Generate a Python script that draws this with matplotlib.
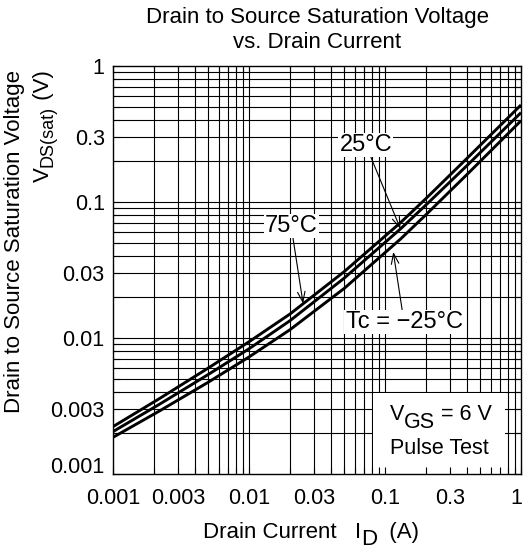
import numpy as np
import matplotlib
matplotlib.use("Agg")
import matplotlib.pyplot as plt
from matplotlib.patches import Rectangle
from matplotlib.transforms import ScaledTranslation

plt.rcParams['font.family'] = ['Liberation Sans', 'DejaVu Sans']
plt.rcParams['mathtext.fontset'] = 'custom'
plt.rcParams['mathtext.rm'] = 'Liberation Sans'

# ---- data ----
drain_current = [0.001, 0.0022, 0.005, 0.01, 0.02, 0.05, 0.13, 0.2, 0.4, 1.0]
vds_75 = [0.00223, 0.00359, 0.0060, 0.00938, 0.0150, 0.0307, 0.0705, 0.106, 0.209, 0.517]
vds_25 = [0.00205, 0.00326, 0.00538, 0.00833, 0.0134, 0.0275, 0.0634, 0.0951, 0.185, 0.454]
vds_m25 = [0.00186, 0.00291, 0.00472, 0.00725, 0.0115, 0.0231, 0.0534, 0.0806, 0.159, 0.396]

x_ticks = [0.001, 0.003, 0.01, 0.03, 0.1, 0.3, 1]
x_labels = ['0.001', '0.003', '0.01', '0.03', '0.1', '0.3', '1']
y_ticks = [0.001, 0.003, 0.01, 0.03, 0.1, 0.3, 1]
y_labels = ['0.001', '0.003', '0.01', '0.03', '0.1', '0.3', '1']

FS = 15.5
W, H = 527, 554
fig = plt.figure(figsize=(W / 100, H / 100), dpi=100)
ax = fig.add_axes([113 / W, 1 - 474 / H, 408 / W, 408 / H])
ax.set_xscale('log')
ax.set_yscale('log')
ax.set_xlim(0.001, 1)
ax.set_ylim(0.001, 1)
ax.set_axisbelow(False)

# grid (drawn manually so white label boxes can sit between grid and ticks)
grid_vals = [k * 10.0 ** d for d in (-3, -2, -1) for k in range(1, 10)]
for g in grid_vals[1:]:
    ax.axvline(g, color='black', lw=0.8, zorder=1)
    ax.axhline(g, color='black', lw=0.8, zorder=1)

# curves
for v in (vds_75, vds_25, vds_m25):
    ax.plot(drain_current, v, color='black', lw=2.1, zorder=3,
            solid_capstyle='butt', solid_joinstyle='round')

# ticks
ax.set_xticks(x_ticks)
ax.set_xticklabels(x_labels)
ax.set_yticks(y_ticks)
ax.set_yticklabels(y_labels)
ax.tick_params(which='both', direction='in', length=5, width=0.8,
               top=True, right=True, labelsize=FS)
ax.tick_params(axis='x', which='major', pad=10)
ax.tick_params(axis='y', which='major', pad=6)
for s in ax.spines.values():
    s.set_linewidth(1.0)

# nudge the corner labels as in the reference
fig.canvas.draw()
renderer = fig.canvas.get_renderer()
ylab0 = ax.yaxis.get_major_ticks()[0].label1
ylab0.set_transform(ylab0.get_transform() + ScaledTranslation(0, 9 / 100, fig.dpi_scale_trans))
xlabl = ax.xaxis.get_major_ticks()[-1].label1
xlabl.set_transform(xlabl.get_transform() + ScaledTranslation(-5 / 100, 0, fig.dpi_scale_trans))


def rich(pieces, x, y, ha='center', rotation=0):
    """pieces: (text, fontsize, drop_px); x, y in pixels from top-left, y = baseline."""
    widths = []
    for s, fs, d in pieces:
        t = fig.text(0, 0, s, fontsize=fs)
        widths.append(t.get_window_extent(renderer).width)
        t.remove()
    total = sum(widths)
    pos = {'center': -total / 2, 'right': -total, 'left': 0}[ha]
    for (s, fs, d), w in zip(pieces, widths):
        if rotation == 0:
            px, py = x + pos, y + d
        else:
            px, py = x + d, y - pos
        fig.text(px / W, 1 - py / H, s, fontsize=fs, ha='left', va='baseline',
                 rotation=rotation, rotation_mode='anchor', zorder=5)
        pos += w


# annotations
arrow = dict(arrowstyle='->,head_length=0.5,head_width=0.18', lw=0.8,
             color='black', shrinkA=0, shrinkB=0, mutation_scale=15)
box = dict(boxstyle='square,pad=0.05', fc='white', ec='none')
AFS = 17

ax.annotate('25°C', xy=(drain_current[6], vds_25[6]), xytext=(0.0724, 0.262),
            ha='center', va='center', fontsize=AFS, bbox=box, arrowprops=arrow, zorder=2)

tip75_x = 0.025
tip75_y = 10 ** np.interp(np.log10(tip75_x), np.log10(drain_current), np.log10(vds_75))
ax.annotate('75°C', xy=(tip75_x, tip75_y), xytext=(0.0204, 0.0667),
            ha='center', va='center', fontsize=AFS, bbox=box, arrowprops=arrow, zorder=2)

ax.annotate('Tc = \u221225°C', xy=(0.115, 0.043), xytext=(0.138, 0.0131),
            ha='center', va='center', fontsize=AFS, bbox=box, arrowprops=arrow, zorder=2)

ax.add_patch(Rectangle((0.637, 0), 0.3235, 0.1985, transform=ax.transAxes,
                       fc='white', ec='none', zorder=1.8))
rich([('V', 15.5, 0), ('GS', 15.5, 8), (' = 6 V', 15.5, 0)], 441, 420)
rich([('Pulse Test', 15.5, 0)], 439, 454)

# titles / axis labels
fig.text(317 / W, 1 - 30 / H, 'Drain to Source Saturation Voltage\nvs. Drain Current',
         ha='center', va='center', fontsize=16, linespacing=1.2)
fig.text(15 / W, 1 - 70 / H, 'Drain to Source Saturation Voltage', rotation=90,
         ha='center', va='top', fontsize=16)
rich([('V', 16, 0), ('DS(sat)', 13, 4), (' (V)', 16, 0)], 49, 70, ha='right', rotation=90)
rich([('Drain Current   I', 16, 0), ('D', 16, 7), ('  (A)', 16, 0)], 311, 538)

fig.savefig('out.png', dpi=100)
